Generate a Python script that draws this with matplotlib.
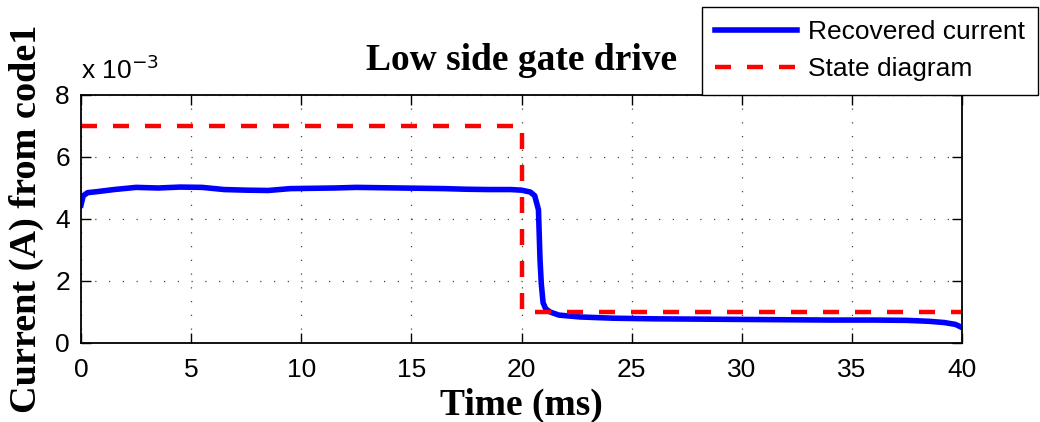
import matplotlib
matplotlib.use("Agg")
import matplotlib.pyplot as plt
from matplotlib.ticker import MultipleLocator

# recovered current from code1 (A), sampled by eye along the trace
t_rec = [0.0, 0.1, 0.3, 0.7, 1.5, 2.5, 3.5, 4.5, 5.5, 6.5, 7.5, 8.5, 9.5,
         10.5, 11.5, 12.5, 13.5, 14.5, 15.5, 16.5, 17.5, 18.5, 19.5, 20.0,
         20.4, 20.6, 20.77, 20.84, 20.9, 20.98, 21.1, 21.3, 21.7, 22.65,
         24.15, 26, 28, 30, 32, 34, 36, 37.5, 38.5, 39.2, 39.7, 40.0]
i_rec = [4.45, 4.75, 4.85, 4.88, 4.95, 5.02, 5.0, 5.03, 5.02, 4.95, 4.93,
         4.92, 4.98, 4.99, 5.0, 5.02, 5.01, 5.0, 4.99, 4.98, 4.96, 4.95,
         4.95, 4.93, 4.87, 4.75, 4.3, 2.7, 1.9, 1.3, 1.1, 1.0, 0.9, 0.84,
         0.8, 0.78, 0.77, 0.76, 0.75, 0.74, 0.74, 0.73, 0.7, 0.66, 0.6, 0.5]

# ideal state diagram levels
t_state = [0, 20, 20, 40]
i_state = [7, 7, 1, 1]

plt.rcParams["font.family"] = "Liberation Sans"

fig = plt.figure(figsize=(10.4, 4.22), dpi=100)
ax = fig.add_axes([81 / 1040, 1 - 343 / 422, (962 - 81) / 1040, (343 - 95) / 422])

ax.plot(t_rec, i_rec, color="#0000ff", lw=4, label="Recovered current",
        solid_joinstyle="round")
ax.plot(t_state, i_state, color="#ff0000", lw=3.2, ls=(0, (3.6, 3.6)),
        label="State diagram")

ax.set_xlim(0, 40)
ax.set_ylim(0, 8)
ax.xaxis.set_major_locator(MultipleLocator(5))
ax.yaxis.set_major_locator(MultipleLocator(2))
ax.grid(True, color="#444444", ls=(0, (1, 10)), lw=0.9)
ax.tick_params(direction="in", top=True, right=True, length=7, width=1,
               labelsize=19)
ax.tick_params(axis="x", pad=11)
ax.tick_params(axis="y", pad=8)
for s in ax.spines.values():
    s.set_linewidth(1.3)

ax.set_xlabel("Time (ms)", family="Liberation Serif", fontweight="bold",
              fontsize=27, labelpad=4)
ax.set_ylabel("Current (A) from code1", family="Liberation Serif",
              fontweight="bold", fontsize=27.5, labelpad=8)
ax.set_title("Low side gate drive", family="Liberation Serif",
             fontweight="bold", fontsize=27, pad=18)
ax.text(0.0, 1.045, r"x 10$^{-3}$", transform=ax.transAxes, fontsize=19,
        ha="left", va="bottom")

leg = fig.legend(loc="upper right", bbox_to_anchor=(1038 / 1040, 1 - 7 / 422),
                 fontsize=19, fancybox=False, framealpha=1,
                 edgecolor="black", handlelength=3.1, handletextpad=0.4,
                 borderpad=0.5, labelspacing=0.5, borderaxespad=0)
leg.get_frame().set_linewidth(1.0)

fig.savefig("out.png", dpi=100)
